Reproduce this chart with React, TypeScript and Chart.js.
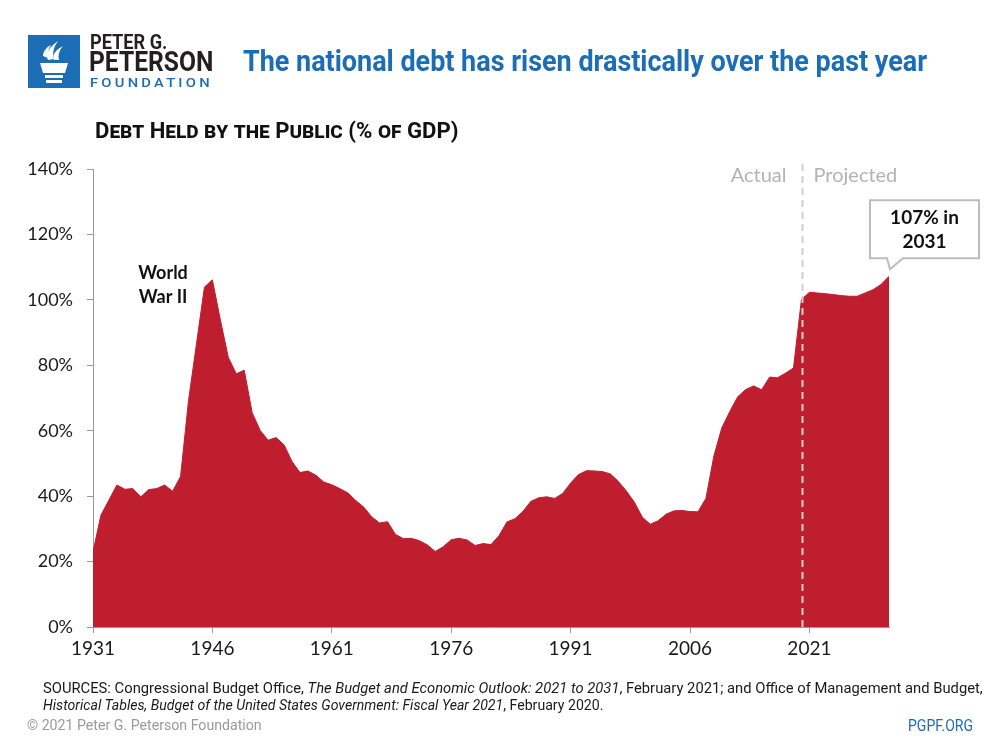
import React, { useEffect, useLayoutEffect, useRef } from "react";
import { Chart, registerables } from "chart.js";

Chart.register(...registerables);

// ---------- data ----------
const years = [
  1931, 1932, 1933, 1934, 1935, 1936, 1937, 1938, 1939, 1940,
  1941, 1942, 1943, 1944, 1945, 1946, 1947, 1948, 1949, 1950,
  1951, 1952, 1953, 1954, 1955, 1956, 1957, 1958, 1959, 1960,
  1961, 1962, 1963, 1964, 1965, 1966, 1967, 1968, 1969, 1970,
  1971, 1972, 1973, 1974, 1975, 1976, 1977, 1978, 1979, 1980,
  1981, 1982, 1983, 1984, 1985, 1986, 1987, 1988, 1989, 1990,
  1991, 1992, 1993, 1994, 1995, 1996, 1997, 1998, 1999, 2000,
  2001, 2002, 2003, 2004, 2005, 2006, 2007, 2008, 2009, 2010,
  2011, 2012, 2013, 2014, 2015, 2016, 2017, 2018, 2019, 2020,
  2021, 2022, 2023, 2024, 2025, 2026, 2027, 2028, 2029, 2030,
  2031,
];

const debtPctGdp = [
  23.0, 34.2, 38.8, 43.4, 42.1, 42.3, 39.8, 42.0, 42.3, 43.4,
  41.5, 46.0, 69.2, 86.6, 103.9, 106.1, 93.9, 82.4, 77.4, 78.5,
  65.5, 60.1, 57.1, 57.9, 55.7, 50.6, 47.2, 47.7, 46.4, 44.3,
  43.5, 42.3, 41.0, 38.7, 36.7, 33.7, 31.8, 32.2, 28.3, 27.0,
  27.1, 26.4, 25.1, 23.1, 24.5, 26.7, 27.1, 26.6, 24.9, 25.5,
  25.2, 27.9, 32.1, 33.1, 35.3, 38.4, 39.5, 39.8, 39.3, 40.8,
  44.0, 46.6, 47.8, 47.7, 47.5, 46.8, 44.5, 41.6, 38.2, 33.6,
  31.4, 32.5, 34.5, 35.5, 35.6, 35.3, 35.2, 39.3, 52.3, 60.9,
  65.9, 70.4, 72.6, 73.7, 72.5, 76.4, 76.2, 77.6, 79.2, 100.1,
  102.3, 102.1, 101.9, 101.6, 101.3, 101.1, 101.1, 102.1, 103.1, 104.7,
  107.2,
];

const xTickYears = [1931, 1946, 1961, 1976, 1991, 2006, 2021];
const yTickValues = [0, 20, 40, 60, 80, 100, 120, 140];
const splitYear = 2020.1;
const phaseLabels = ["Actual", "Projected"];
const warLabelLines = ["World", "War II"];
const warLabelAnchor = { year: 1939.8, pct: [108.2, 100.9] };
const calloutLines = ["107% in", "2031"];
const calloutYear = 2031;
const calloutPct = 107.2;

// ---------- styles ----------
const RED = "#be1e2d";
const BLUE = "#1b6db5";
const AXIS_GRAY = "#9a9a9a";
const TICK_FONT = "Lato, 'Open Sans', sans-serif";
const COND = "Roboto, 'Liberation Sans', sans-serif";

const annotationPlugin = {
  id: "annotations",
  afterDatasetsDraw(chart: any) {
    const { ctx, scales, chartArea } = chart;
    const x = scales.x;
    const y = scales.y;
    ctx.save();

    // Actual / Projected divider
    const sx = Math.round(x.getPixelForValue(splitYear)) + 0.5;
    ctx.strokeStyle = "#cfcfcf";
    ctx.lineWidth = 2;
    ctx.setLineDash([7, 5]);
    ctx.beginPath();
    ctx.moveTo(sx, chartArea.top - 5);
    ctx.lineTo(sx, chartArea.bottom);
    ctx.stroke();
    ctx.setLineDash([]);

    ctx.font = `20px ${TICK_FONT}`;
    ctx.fillStyle = "#b3b3b3";
    ctx.textBaseline = "middle";
    ctx.textAlign = "right";
    ctx.fillText(phaseLabels[0], sx - 16, chartArea.top + 7);
    ctx.textAlign = "left";
    ctx.fillText(phaseLabels[1], sx + 11, chartArea.top + 7);

    // World War II label
    ctx.font = `bold 18px ${TICK_FONT}`;
    ctx.fillStyle = "#111";
    ctx.textAlign = "center";
    const wx = x.getPixelForValue(warLabelAnchor.year);
    warLabelLines.forEach((t, i) => {
      ctx.fillText(t, wx, y.getPixelForValue(warLabelAnchor.pct[i]));
    });

    // Callout
    const px = x.getPixelForValue(calloutYear);
    const py = y.getPixelForValue(calloutPct);
    const left = px - 19;
    const right = px + 90;
    const top = py - 76;
    const bottom = py - 18;
    ctx.beginPath();
    ctx.moveTo(left, top);
    ctx.lineTo(right, top);
    ctx.lineTo(right, bottom);
    ctx.lineTo(px + 14, bottom);
    ctx.lineTo(px + 1, py - 7);
    ctx.lineTo(px - 2, bottom);
    ctx.lineTo(left, bottom);
    ctx.closePath();
    ctx.fillStyle = "#ffffff";
    ctx.fill();
    ctx.strokeStyle = "#bdbdbd";
    ctx.lineWidth = 2;
    ctx.stroke();

    ctx.fillStyle = "#111";
    ctx.font = `bold 19px ${TICK_FONT}`;
    ctx.textAlign = "center";
    const cx = (left + right) / 2;
    ctx.fillText(calloutLines[0], cx, top + 18);
    ctx.fillText(calloutLines[1], cx, top + 42);

    ctx.restore();
  },
};

function DebtChart() {
  const ref = useRef<HTMLCanvasElement | null>(null);
  useEffect(() => {
    if (!ref.current) return;
    const chart = new Chart(ref.current, {
      type: "line",
      data: {
        datasets: [
          {
            data: years.map((yr, i) => ({ x: yr, y: debtPctGdp[i] })),
            fill: "origin",
            backgroundColor: RED,
            borderColor: RED,
            borderWidth: 1,
            pointRadius: 0,
            tension: 0,
          },
        ],
      },
      options: {
        animation: false,
        responsive: false,
        maintainAspectRatio: false,
        layout: { padding: { top: 169, right: 111, left: 0, bottom: 0 } },
        plugins: { legend: { display: false }, tooltip: { enabled: false } },
        scales: {
          x: {
            type: "linear",
            min: 1931,
            max: 2031,
            afterBuildTicks: (axis: any) => {
              axis.ticks = xTickYears.map((v) => ({ value: v }));
            },
            afterFit: (axis: any) => {
              axis.height = 123;
            },
            grid: {
              drawOnChartArea: false,
              drawTicks: true,
              tickLength: 6,
              color: AXIS_GRAY,
            },
            border: { display: true, color: AXIS_GRAY, width: 1 },
            ticks: {
              autoSkip: false,
              maxRotation: 0,
              padding: 4,
              color: "#1a1a1a",
              font: { family: TICK_FONT, size: 19 },
              callback: (v: any) => String(v),
            },
          },
          y: {
            min: 0,
            max: 140,
            afterBuildTicks: (axis: any) => {
              axis.ticks = yTickValues.map((v) => ({ value: v }));
            },
            afterFit: (axis: any) => {
              axis.width = 93;
            },
            grid: {
              drawOnChartArea: false,
              drawTicks: true,
              tickLength: 6,
              color: AXIS_GRAY,
            },
            border: { display: true, color: AXIS_GRAY, width: 1 },
            ticks: {
              padding: 14,
              color: "#1a1a1a",
              font: { family: TICK_FONT, size: 18 },
              callback: (v: any) => `${v}%`,
            },
          },
        },
      },
      plugins: [annotationPlugin],
    });
    return () => chart.destroy();
  }, []);
  return (
    <canvas
      ref={ref}
      width={1000}
      height={750}
      style={{ position: "absolute", left: 0, top: 0, width: 1000, height: 750 }}
    />
  );
}

// Text squeezed horizontally to a target width (emulates a condensed typeface)
function Fit(props: { left: number; top: number; width: number; style: React.CSSProperties; children: React.ReactNode }) {
  const ref = useRef<HTMLDivElement | null>(null);
  useLayoutEffect(() => {
    const el = ref.current;
    if (!el) return;
    const apply = () => {
      el.style.transform = "none";
      const w = el.scrollWidth;
      if (w > 0) el.style.transform = `scaleX(${props.width / w})`;
    };
    apply();
    if ((document as any).fonts && (document as any).fonts.ready) {
      (document as any).fonts.ready.then(apply);
    }
  }, [props.width]);
  return (
    <div
      ref={ref}
      style={{
        position: "absolute",
        left: props.left,
        top: props.top,
        whiteSpace: "nowrap",
        margin: 0,
        display: "inline-block",
        transformOrigin: "0 0",
        ...props.style,
      }}
    >
      {props.children}
    </div>
  );
}

function Logo() {
  return (
    <svg width={52} height={53} viewBox="0 0 52 53" style={{ position: "absolute", left: 28, top: 35 }}>
      <rect x={0} y={0} width={52} height={53} fill={BLUE} />
      <path d="M20 25 C16 18, 22 12, 30 6 C26 12, 24 17, 26 24 Z" fill="#fff" />
      <path d="M26 25 C24 19, 28 15, 35 11 C31 16, 30 20, 31 25 Z" fill="#fff" />
      <path d="M15 21 C15 16, 19 12, 23 10 C20 14, 19 18, 20 23 Z" fill="#fff" />
      <path d="M12 28 L40 28 L37 38 L15 38 Z" fill="#fff" />
      <rect x={17} y={40} width={18} height={3} fill="#fff" />
      <rect x={18} y={45} width={16} height={3} fill="#fff" />
    </svg>
  );
}

export default function App() {
  return (
    <div style={{ position: "absolute", left: 0, top: 0, width: 1000, height: 750, background: "#fff", overflow: "hidden" }}>
      <DebtChart />
      <Logo />
      <Fit left={90} top={32} width={77} style={{ fontFamily: COND, fontWeight: 700, fontSize: 21, lineHeight: "21px", color: "#231f20" }}>
        PETER G.
      </Fit>
      <Fit left={89} top={49} width={124} style={{ fontFamily: COND, fontWeight: 700, fontSize: 27, lineHeight: "27px", color: "#231f20" }}>
        PETERSON
      </Fit>
      <Fit left={90} top={75} width={123} style={{ fontFamily: COND, fontWeight: 500, fontSize: 13.5, lineHeight: "14px", letterSpacing: 3, color: BLUE }}>
        FOUNDATION
      </Fit>
      <Fit left={243} top={47} width={684} style={{ fontFamily: COND, fontWeight: 700, fontSize: 29, lineHeight: "29px", color: BLUE }}>
        The national debt has risen drastically over the past year
      </Fit>
      <Fit left={95} top={120} width={363} style={{ fontFamily: COND, fontWeight: 700, fontSize: 22, lineHeight: "22px", fontVariant: "small-caps", color: "#111" }}>
        Debt Held by the Public (% of GDP)
      </Fit>
      <Fit left={43} top={680} width={940} style={{ fontFamily: COND, fontSize: 15, lineHeight: "17px", color: "#1a1a1a" }}>
        SOURCES: Congressional Budget Office, <i>The Budget and Economic Outlook: 2021 to 2031</i>, February 2021; and Office of Management and Budget,
      </Fit>
      <Fit left={43} top={697} width={560} style={{ fontFamily: COND, fontSize: 15, lineHeight: "17px", color: "#1a1a1a" }}>
        <i>Historical Tables, Budget of the United States Government: Fiscal Year 2021</i>, February 2020.
      </Fit>
      <Fit left={27} top={717} width={235} style={{ fontFamily: COND, fontSize: 15, lineHeight: "17px", color: "#9a9a9a" }}>
        © 2021 Peter G. Peterson Foundation
      </Fit>
      <Fit left={908} top={717} width={65} style={{ fontFamily: COND, fontSize: 16, lineHeight: "17px", color: BLUE }}>
        PGPF.ORG
      </Fit>
    </div>
  );
}
